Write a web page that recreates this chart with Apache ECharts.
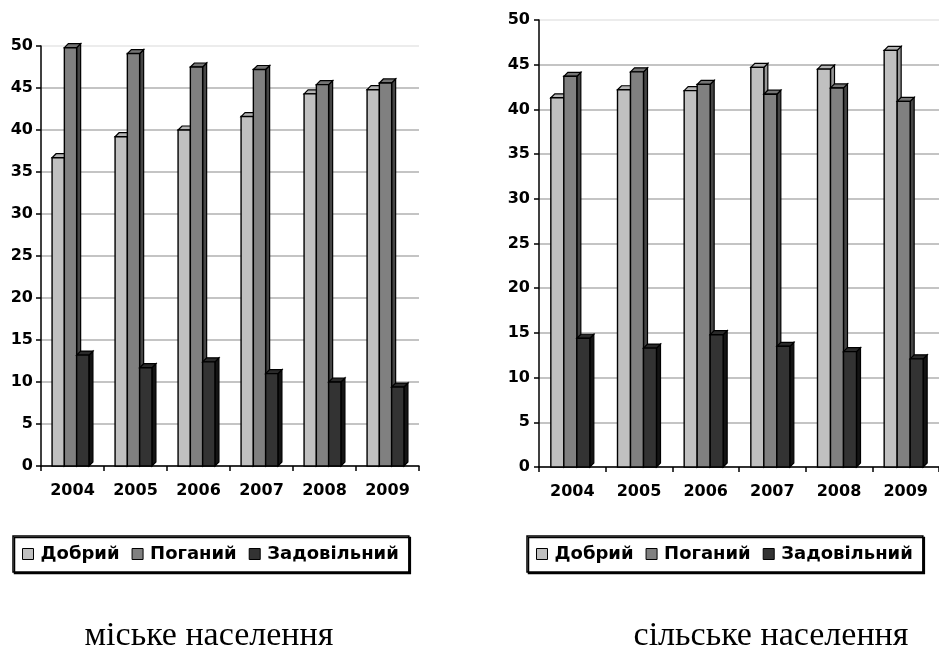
<!DOCTYPE html>
<html>
<head>
<meta charset="utf-8">
<script src="https://cdn.jsdelivr.net/npm/echarts@6/dist/echarts.min.js"></script>
<style>
html,body{margin:0;padding:0;background:#fff;}
#c{width:939px;height:647px;}
</style>
</head>
<body>
<div id="c"></div>
<script>
const years = ['2004','2005','2006','2007','2008','2009'];
const seriesNames = ['Добрий','Поганий','Задовільний'];
const yTicks = [0,5,10,15,20,25,30,35,40,45,50];

// міське населення
const urbanGood = [36.7, 39.2, 40.0, 41.6, 44.3, 44.8];
const urbanBad  = [49.8, 49.1, 47.5, 47.2, 45.4, 45.6];
const urbanSat  = [13.2, 11.7, 12.4, 11.0, 10.0, 9.4];

// сільське населення
const ruralGood = [41.3, 42.2, 42.1, 44.7, 44.5, 46.6];
const ruralBad  = [43.7, 44.2, 42.8, 41.7, 42.4, 40.9];
const ruralSat  = [14.4, 13.3, 14.8, 13.5, 12.9, 12.1];

const titles = ['міське населення','сільське населення'];

const palette = [
  {front:'#c0c0c0', top:'#b4b4b4', side:'#969696'},
  {front:'#808080', top:'#747474', side:'#454545'},
  {front:'#333333', top:'#2a2a2a', side:'#141414'}
];

function makeRender(si){
  const c = palette[si];
  return function(params, api){
    const cat = api.value(0), val = api.value(1);
    const base = api.coord([cat, 0]);
    const top = api.coord([cat, val]);
    const bandW = api.size([1,0])[0];
    const bw = bandW*0.195;
    const d = 4;
    const groupW = bw*3 + d;
    const x0 = base[0] - groupW/2 + si*bw;
    const x1 = x0 + bw;
    const yT = top[1], yB = base[1];
    return {type:'group', children:[
      {type:'polygon', shape:{points:[[x1,yB],[x1+d,yB-d],[x1+d,yT-d],[x1,yT]]},
        style:{fill:c.side, stroke:'#000', lineWidth:1.2}},
      {type:'polygon', shape:{points:[[x0,yT],[x0+d,yT-d],[x1+d,yT-d],[x1,yT]]},
        style:{fill:c.top, stroke:'#000', lineWidth:1.2}},
      {type:'rect', shape:{x:x0, y:yT, width:bw, height:yB-yT},
        style:{fill:c.front, stroke:'#000', lineWidth:1.4}}
    ]};
  };
}

const splitColors = yTicks.map((t,i)=> i===yTicks.length-1 ? '#ececec' : '#c4c4c4');
const FONT = 'DejaVu Sans';

function xAx(gi){
  return {type:'category', gridIndex:gi, data:years,
    axisLine:{lineStyle:{color:'#000', width:1.5}},
    axisTick:{show:true, length:5, lineStyle:{color:'#000', width:1.5}},
    axisLabel:{color:'#000', fontFamily:FONT, fontWeight:'bold', fontSize:16, margin:17},
    splitLine:{show:false}};
}
function yAx(gi, margin){
  return {type:'value', gridIndex:gi, min:0, max:50, interval:5,
    axisLine:{show:true, lineStyle:{color:'#000', width:1.5}},
    axisTick:{show:true, length:5, lineStyle:{color:'#000', width:1.5}},
    axisLabel:{color:'#000', fontFamily:FONT, fontWeight:'bold', fontSize:16, margin:margin},
    splitLine:{show:true, lineStyle:{color:splitColors, width:2}}};
}

const dataSets = [[urbanGood, urbanBad, urbanSat],[ruralGood, ruralBad, ruralSat]];
const series = [];
dataSets.forEach((set, gi)=>{
  set.forEach((vals, si)=>{
    series.push({type:'custom', name:seriesNames[si], xAxisIndex:gi, yAxisIndex:gi,
      renderItem:makeRender(si), clip:false,
      itemStyle:{color:palette[si].front},
      encode:{x:0, y:1},
      data: vals.map((v,i)=>[i, v]), z: 2+si});
  });
});

function legend(left){
  return {left:left, top:536, orient:'horizontal', data:seriesNames,
    icon:'rect', itemWidth:11, itemHeight:11, itemGap:12,
    itemStyle:{borderColor:'#000', borderWidth:1},
    textStyle:{color:'#000', fontFamily:FONT, fontWeight:'bold', fontSize:18, padding:[0,0,0,2]},
    padding:[9,10,9,9], borderColor:'#000', borderWidth:1.5, backgroundColor:'#fff',
    shadowColor:'#000', shadowOffsetX:1.5, shadowOffsetY:1.5, shadowBlur:0,
    selectedMode:false};
}

const chart = echarts.init(document.getElementById('c'), null, {renderer:'canvas'});
chart.setOption({
  animation:false,
  backgroundColor:'#fff',
  grid:[
    {left:41, top:46, width:378, height:420},
    {left:539, top:20, width:408, height:447}
  ],
  xAxis:[xAx(0), xAx(1)],
  yAxis:[yAx(0, 8), yAx(1, 9)],
  legend:[legend(13), legend(527)],
  series:series,
  graphic:[
    {type:'text', x:209, y:636, style:{text:titles[0], font:'34px "Liberation Serif"', fill:'#000', textAlign:'center', textVerticalAlign:'middle'}},
    {type:'text', x:771, y:636, style:{text:titles[1], font:'34px "Liberation Serif"', fill:'#000', textAlign:'center', textVerticalAlign:'middle'}}
  ]
});
</script>
</body>
</html>
